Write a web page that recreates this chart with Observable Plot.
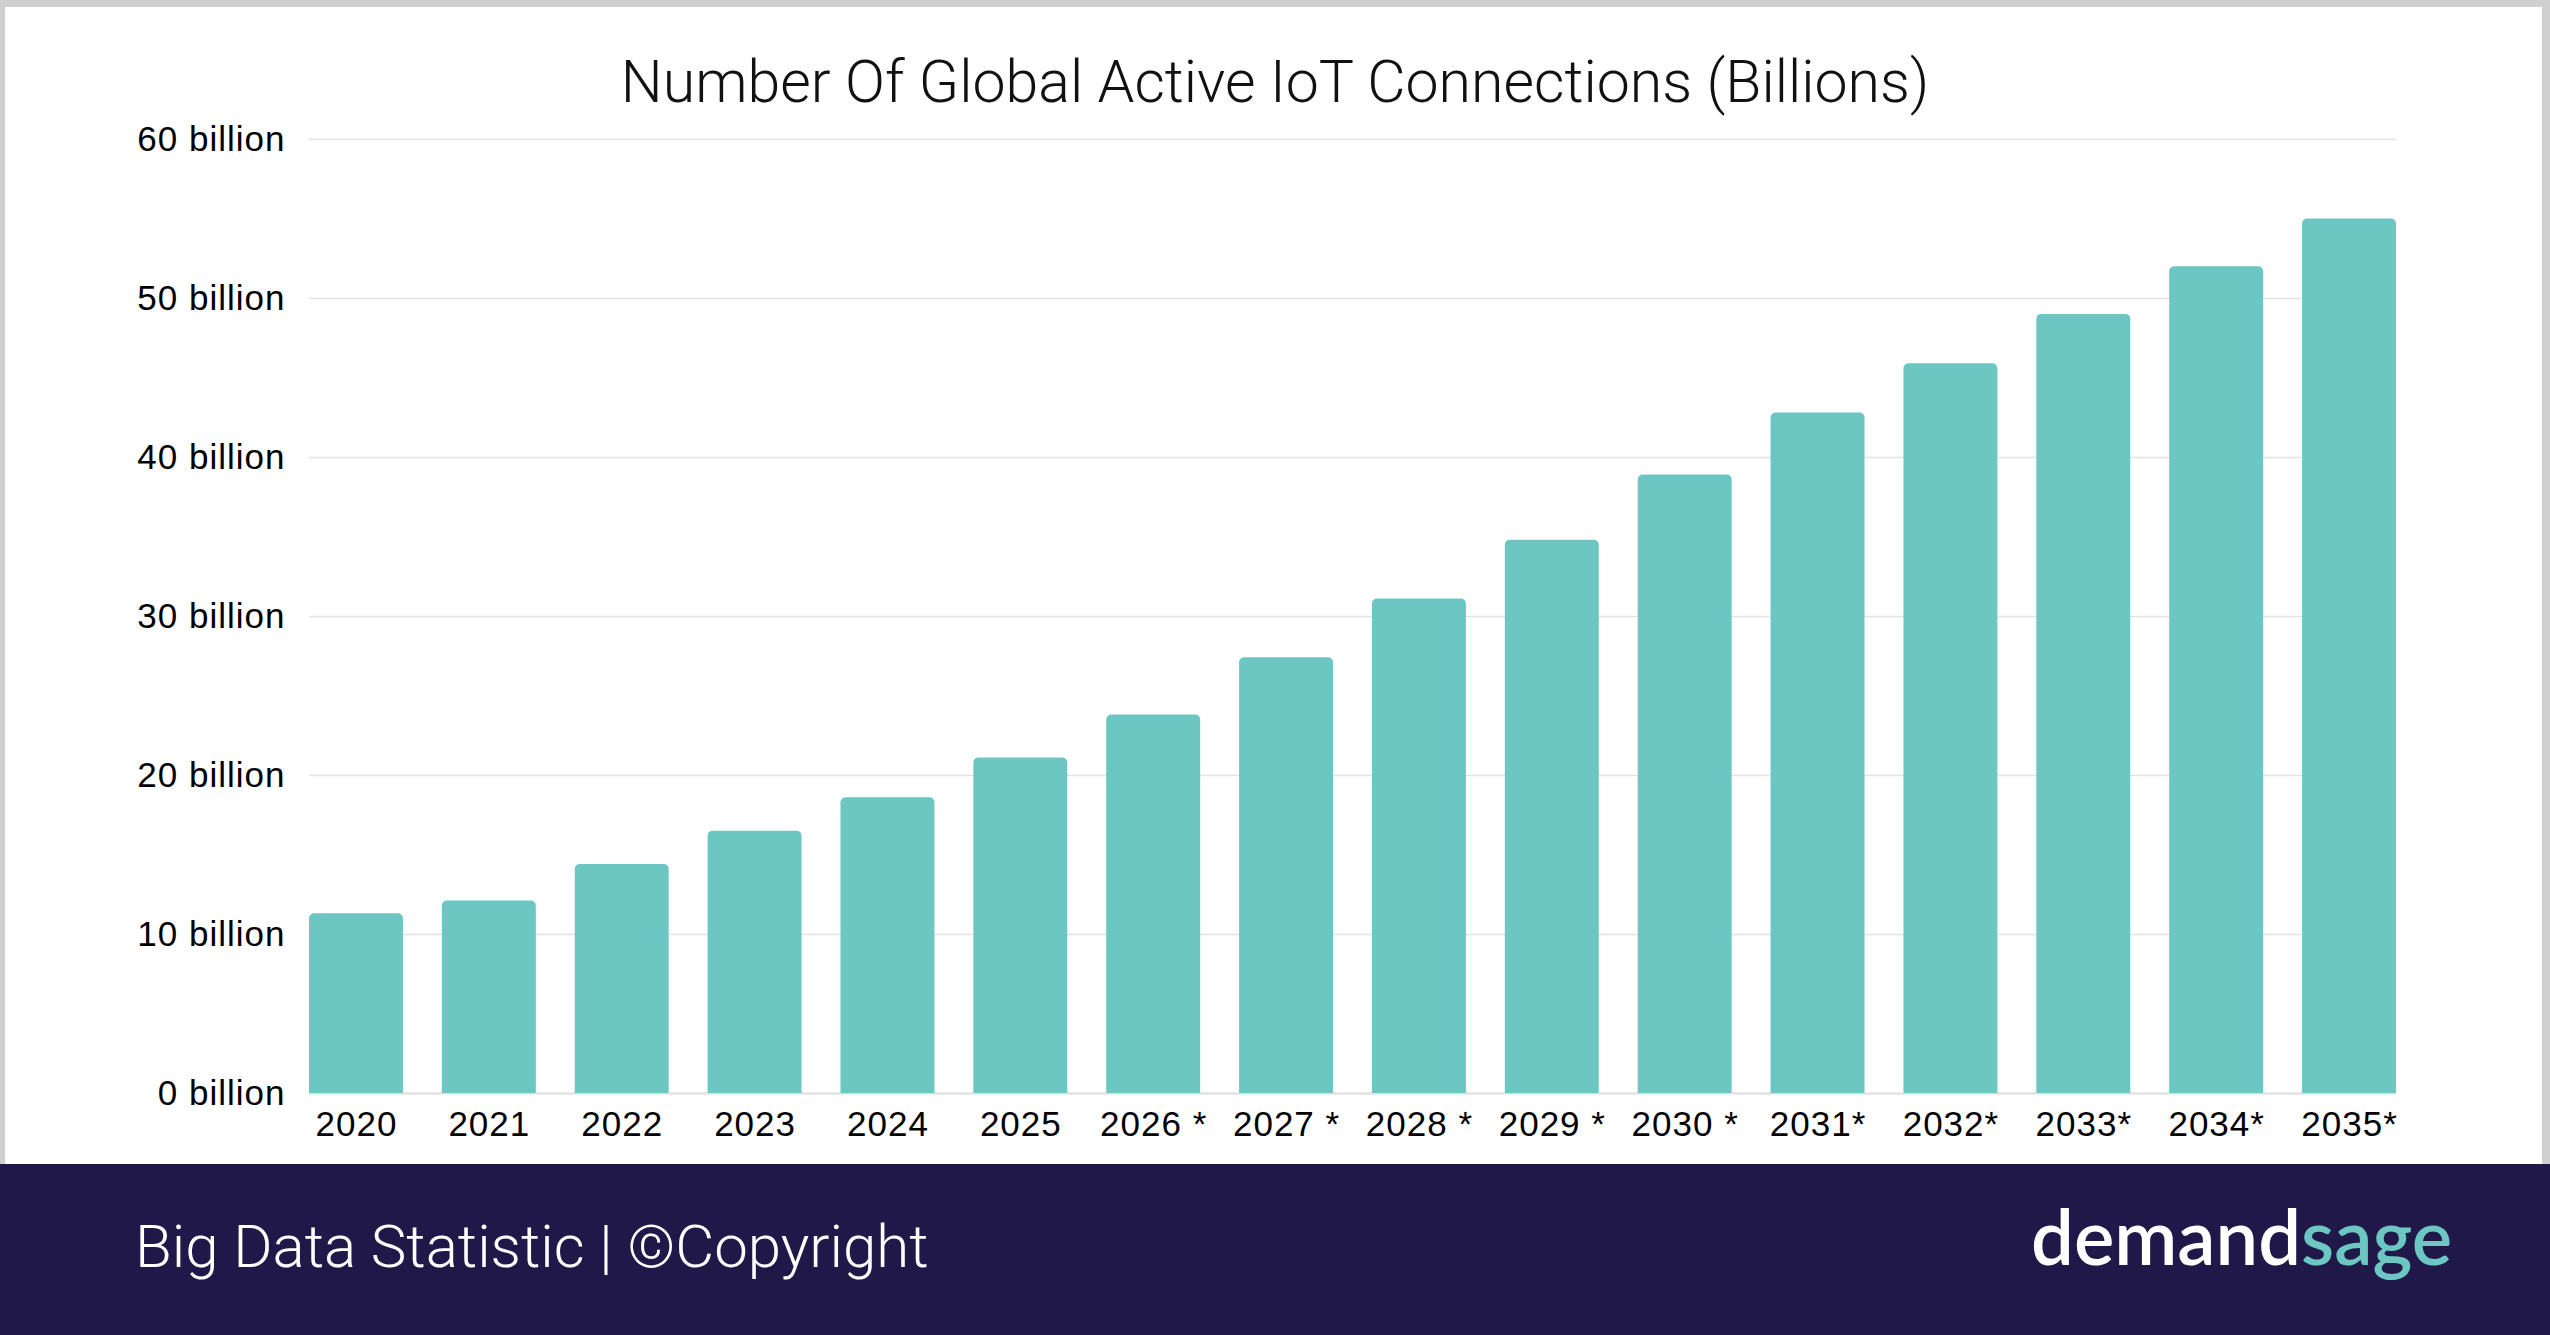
<!DOCTYPE html>
<html>
<head>
<meta charset="utf-8">
<script src="https://cdn.jsdelivr.net/npm/d3@7"></script>
<script src="https://cdn.jsdelivr.net/npm/@observablehq/plot@0.6"></script>
<style>
  html, body { margin: 0; padding: 0; background: #ffffff; }
  #page { position: relative; width: 2550px; height: 1335px; overflow: hidden; background: #ffffff; }
  #chart { position: absolute; left: 0; top: 0; }
  .border { position: absolute; background: #cfcfcf; z-index: 5; }
  #title { position: absolute; left: 0; width: 2550px; top: 52px; text-align: center;
           font-family: Roboto, "Liberation Sans", sans-serif; font-weight: 300; font-size: 59px;
           color: #111; line-height: 1; z-index: 6; white-space: nowrap; }
  #footer { position: absolute; left: 0; top: 1164px; width: 2550px; height: 171px; background: #1f1849; z-index: 6; }
  #source { position: absolute; left: 135px; top: 53px; font-family: Roboto, "Liberation Sans", sans-serif;
            font-weight: 300; font-size: 60px; color: #ffffff; line-height: 1; white-space: nowrap; }
  #logo { position: absolute; right: 98px; top: 34px; font-family: Lato, Roboto, sans-serif; font-weight: 600;
          font-size: 76px; color: #ffffff; line-height: 1; letter-spacing: 0px; white-space: nowrap; }
  #logo span { color: #6cc7c3; }
</style>
</head>
<body>
<div id="page">
  <div id="chart"></div>
  <div id="title">Number Of Global Active IoT Connections (Billions)</div>
  <div class="border" style="left:0;top:0;width:2550px;height:7px;"></div>
  <div class="border" style="left:0;top:0;width:5px;height:1164px;"></div>
  <div class="border" style="right:0;top:0;width:8px;height:1164px;"></div>
  <div id="footer">
    <div id="source">Big Data Statistic | ©Copyright</div>
    <div id="logo">demand<span>sage</span></div>
  </div>
</div>
<script>
// ---- data ----
const years = ["2020","2021","2022","2023","2024","2025","2026","2027","2028","2029","2030","2031","2032","2033","2034","2035"];
const yearLabels = ["2020","2021","2022","2023","2024","2025","2026 *","2027 *","2028 *","2029 *","2030 *","2031*","2032*","2033*","2034*","2035*"];
const connections = [11.3, 12.1, 14.4, 16.5, 18.6, 21.1, 23.8, 27.4, 31.1, 34.8, 38.9, 42.8, 45.9, 49.0, 52.0, 55.0];
const yTicks = [0, 10, 20, 30, 40, 50, 60];

const data = years.map((y, i) => ({year: y, value: connections[i]}));
const labelOf = new Map(years.map((y, i) => [y, yearLabels[i]]));

const chart = Plot.plot({
  width: 2550,
  height: 1164,
  marginTop: 139,
  marginBottom: 71,
  marginLeft: 309,
  marginRight: 154,
  style: {
    background: "transparent",
    fontFamily: "'Liberation Sans', Arial, sans-serif",
    fontSize: "35px",
    letterSpacing: "1px",
    color: "#000"
  },
  x: {domain: years, paddingInner: 0.293, paddingOuter: 0, align: 0.5, round: false, label: null},
  y: {domain: [0, 60], label: null},
  marks: [
    Plot.gridY(yTicks, {stroke: "#e3e3e3", strokeOpacity: 1, strokeWidth: 1.5}),
    Plot.ruleY([0], {stroke: "#e0e0e0", strokeWidth: 2}),
    Plot.barY(data, {x: "year", y1: -3, y2: "value", fill: "#6cc7c3", rx: 5, clip: true}),
    Plot.axisY(yTicks, {
      tickSize: 0, tickPadding: 24, label: null,
      tickFormat: d => `${d} billion`,
      fontSize: 35, fill: "#000"
    }),
    Plot.axisX({
      tickSize: 0, tickPadding: 18, label: null,
      tickFormat: d => labelOf.get(d),
      fontSize: 35, fill: "#000"
    })
  ]
});
document.getElementById("chart").appendChild(chart);
</script>
</body>
</html>
